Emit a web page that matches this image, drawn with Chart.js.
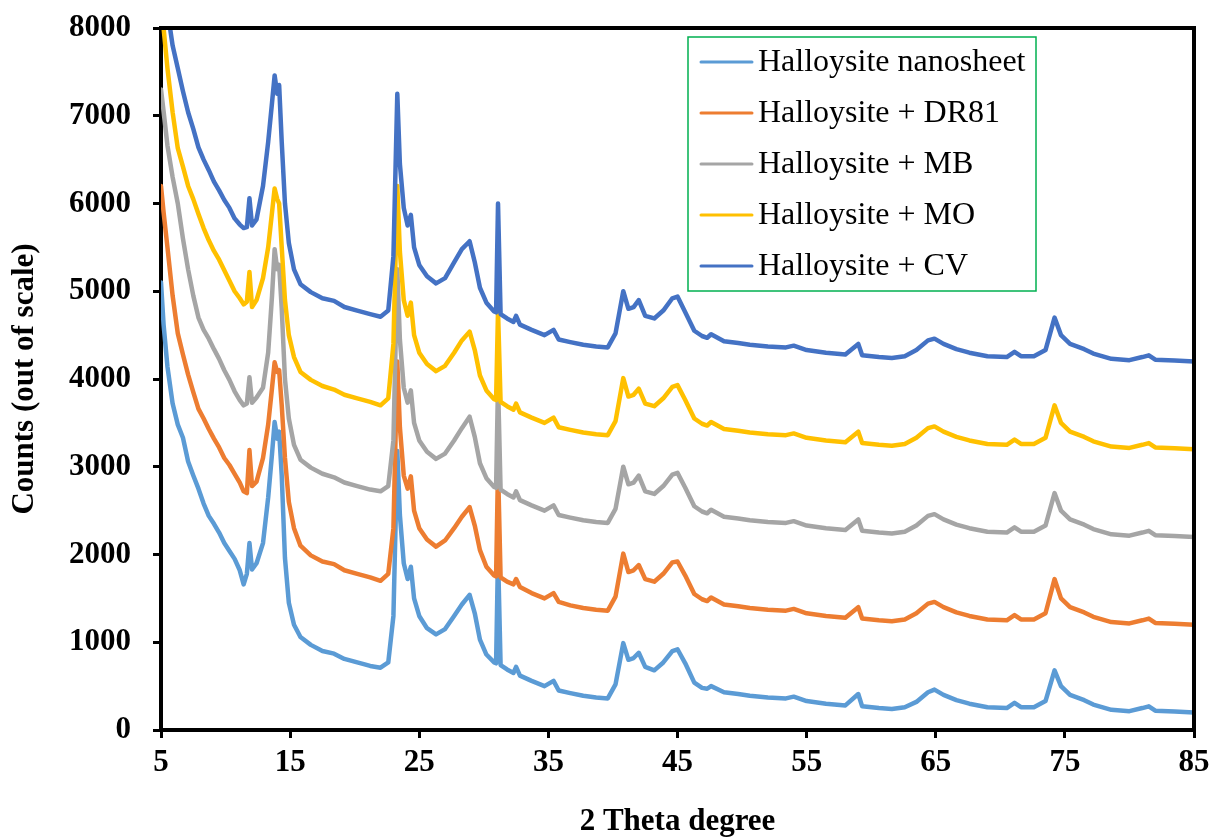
<!DOCTYPE html>
<html>
<head>
<meta charset="utf-8">
<title>XRD patterns</title>
<script src="https://cdn.jsdelivr.net/npm/chart.js@4.4.1/dist/chart.umd.min.js"></script>
<style>
  html, body { margin: 0; padding: 0; background: #fff; }
  #wrap { width: 1211px; height: 837px; position: relative; }
</style>
</head>
<body>
<div id="wrap"><canvas id="xrd"></canvas></div>
<script>
// 2 theta positions shared by all patterns
const twoTheta = [
  5.0, 5.2, 5.5, 5.9, 6.3, 6.7, 7.1, 7.5, 7.9, 8.3,
  8.7, 9.1, 9.5, 9.9, 10.3, 10.7, 11.1, 11.4, 11.65, 11.85,
  12.05, 12.4, 12.9, 13.3, 13.6, 13.8, 14.0, 14.15, 14.35, 14.6,
  14.9, 15.3, 15.8, 16.6, 17.5, 18.4, 19.2, 20.2, 21.2, 22.0,
  22.6, 23.0, 23.3, 23.5, 23.8, 24.1, 24.35, 24.6, 25.0, 25.6,
  26.3, 27.0, 27.7, 28.3, 28.9, 29.3, 29.7, 30.2, 30.8, 30.95,
  31.1, 31.3, 31.8, 32.3, 32.5, 32.8, 33.7, 34.7, 35.4, 35.8,
  36.7, 37.7, 38.7, 39.6, 40.2, 40.8, 41.2, 41.6, 42.0, 42.5,
  43.2, 43.9, 44.6, 45.0, 45.6, 46.3, 46.9, 47.3, 47.6, 48.6,
  49.7, 50.6, 52.0, 53.4, 54.0, 55.0, 56.5, 58.0, 59.0, 59.3,
  60.6, 61.6, 62.6, 63.5, 64.4, 64.9, 65.6, 66.6, 67.6, 69.0,
  70.5, 71.1, 71.6, 72.6, 73.5, 74.2, 74.7, 75.4, 76.5, 77.2,
  78.6, 80.0, 81.0, 81.5, 82.0, 83.5, 85.0
];

const nanosheet = [
  5100, 4620, 4140, 3720, 3480, 3330, 3060, 2900, 2750, 2580,
  2440, 2350, 2250, 2130, 2040, 1950, 1820, 1660, 1780, 2130,
  1830, 1900, 2130, 2650, 3150, 3510, 3320, 3400, 2900, 1960,
  1450, 1200, 1060, 970, 900, 870, 810, 770, 730, 710,
  770, 1300, 3180, 2450, 1900, 1720, 1860, 1500, 1300, 1160,
  1090, 1150, 1300, 1430, 1540, 1330, 1030, 860, 770, 760,
  2000, 740, 690, 650, 720, 620, 560, 500, 560, 450,
  420, 390, 370, 360, 520, 990, 800, 820, 880, 720,
  680, 770, 900, 920, 760, 540, 480, 470, 500, 430,
  410, 390, 370, 360, 380, 330, 300, 280, 410, 270,
  250, 240, 260, 320, 430, 460, 400, 340, 300, 260,
  250, 310, 260, 260, 330, 680, 500, 400, 340, 290,
  230, 215, 250, 270, 220, 210, 200
];

const withDR81 = [
  6200, 5900, 5500, 4950, 4520, 4280, 4050, 3850, 3660, 3550,
  3430, 3320, 3220, 3100, 3020, 2920, 2820, 2720, 2700, 3190,
  2780, 2830, 3100, 3480, 3900, 4190, 4080, 4100, 3700, 3100,
  2600, 2300, 2100, 1990, 1920, 1890, 1820, 1780, 1740, 1700,
  1780, 2300, 4200, 3450, 2900, 2750, 2890, 2500, 2300, 2170,
  2090, 2160, 2300, 2430, 2540, 2330, 2050, 1860, 1760, 1750,
  3000, 1740, 1690, 1660, 1720, 1630, 1560, 1500, 1560, 1460,
  1420, 1390, 1370, 1360, 1520, 2010, 1800, 1820, 1880, 1720,
  1690, 1780, 1910, 1920, 1760, 1550, 1490, 1470, 1510, 1430,
  1410, 1390, 1370, 1360, 1380, 1330, 1300, 1280, 1400, 1270,
  1250, 1240, 1260, 1330, 1440, 1460, 1400, 1340, 1300, 1260,
  1250, 1310, 1260, 1260, 1330, 1720, 1500, 1400, 1340, 1290,
  1230, 1215, 1250, 1270, 1220, 1210, 1200
];

const withMB = [
  7300, 7050, 6660, 6300, 6000, 5600, 5250, 4950, 4700, 4560,
  4460, 4340, 4230, 4100, 3990, 3860, 3760, 3700, 3720, 4020,
  3730, 3790, 3900, 4300, 4950, 5480, 5250, 5300, 4800, 4000,
  3550, 3250, 3080, 2990, 2920, 2880, 2820, 2780, 2740, 2720,
  2780, 3300, 5250, 4450, 3900, 3730, 3870, 3500, 3300, 3170,
  3090, 3150, 3300, 3440, 3570, 3340, 3040, 2870, 2770, 2760,
  3950, 2740, 2690, 2650, 2720, 2620, 2560, 2500, 2560, 2450,
  2420, 2390, 2370, 2360, 2520, 3000, 2800, 2820, 2900, 2720,
  2690, 2780, 2910, 2930, 2760, 2550, 2490, 2470, 2510, 2430,
  2410, 2390, 2370, 2360, 2380, 2330, 2300, 2280, 2400, 2270,
  2250, 2240, 2260, 2330, 2440, 2460, 2400, 2340, 2300, 2260,
  2250, 2310, 2260, 2260, 2330, 2700, 2500, 2400, 2340, 2290,
  2230, 2215, 2250, 2270, 2220, 2210, 2200
];

const withMO = [
  8300, 8000, 7540, 7040, 6630, 6420, 6200, 6050, 5880, 5720,
  5580, 5460, 5360, 5240, 5120, 5000, 4920, 4850, 4880, 5220,
  4820, 4900, 5150, 5500, 5900, 6170, 6050, 6000, 5500, 4900,
  4500, 4250, 4080, 3990, 3920, 3880, 3820, 3780, 3740, 3700,
  3780, 4400, 6200, 5450, 4900, 4720, 4870, 4500, 4300, 4170,
  4090, 4150, 4300, 4440, 4540, 4330, 4040, 3870, 3770, 3760,
  4780, 3740, 3690, 3650, 3720, 3620, 3560, 3500, 3560, 3450,
  3420, 3390, 3370, 3360, 3520, 4010, 3800, 3820, 3890, 3720,
  3690, 3780, 3910, 3930, 3760, 3550, 3490, 3470, 3510, 3430,
  3410, 3390, 3370, 3360, 3380, 3330, 3300, 3280, 3400, 3270,
  3250, 3240, 3260, 3330, 3440, 3460, 3400, 3340, 3300, 3260,
  3250, 3310, 3260, 3260, 3330, 3700, 3500, 3400, 3340, 3290,
  3230, 3215, 3250, 3270, 3220, 3210, 3200
];

const withCV = [
  8900, 8600, 8200, 7800, 7540, 7280, 7040, 6850, 6640, 6500,
  6380, 6250, 6150, 6040, 5950, 5830, 5760, 5720, 5730, 6060,
  5750, 5820, 6200, 6700, 7150, 7460, 7250, 7350, 6700, 6000,
  5550, 5250, 5080, 4990, 4920, 4890, 4820, 4780, 4740, 4710,
  4780, 5400, 7250, 6450, 5950, 5750, 5870, 5500, 5300, 5170,
  5090, 5150, 5330, 5480, 5570, 5330, 5040, 4870, 4770, 4760,
  6000, 4740, 4690, 4650, 4720, 4620, 4560, 4500, 4560, 4450,
  4420, 4390, 4370, 4360, 4520, 5000, 4800, 4820, 4900, 4720,
  4690, 4780, 4920, 4940, 4760, 4550, 4490, 4470, 4510, 4430,
  4410, 4390, 4370, 4360, 4380, 4330, 4300, 4280, 4400, 4270,
  4250, 4240, 4260, 4330, 4440, 4460, 4400, 4340, 4300, 4260,
  4250, 4310, 4260, 4260, 4330, 4700, 4500, 4400, 4340, 4290,
  4230, 4215, 4250, 4270, 4220, 4210, 4200
];

const seriesNames = ['Halloysite nanosheet', 'Halloysite + DR81', 'Halloysite + MB', 'Halloysite + MO', 'Halloysite + CV'];
const seriesValues = [nanosheet, withDR81, withMB, withMO, withCV];
const seriesColors = ['#5B9BD5', '#ED7D31', '#A5A5A5', '#FFC000', '#4472C4'];
const xTicks = [5, 15, 25, 35, 45, 55, 65, 75, 85];

const serif = 'Liberation Serif, Times New Roman, serif';

const datasets = seriesValues.map((vals, i) => ({
  label: seriesNames[i],
  data: twoTheta.map((t, j) => ({ x: t, y: vals[j] })),
  borderColor: seriesColors[i],
  backgroundColor: seriesColors[i],
  borderWidth: 4.5,
  borderJoinStyle: 'round',
  borderCapStyle: 'round',
  pointRadius: 0,
  tension: 0,
  order: seriesValues.length - i  // last series ends up on top
}));

// top and right edges of the plot frame
const frame = {
  id: 'frame',
  afterDatasetsDraw(chart) {
    const { ctx, chartArea: a } = chart;
    ctx.save();
    ctx.strokeStyle = '#000';
    ctx.lineWidth = 4;
    ctx.beginPath();
    ctx.moveTo(a.left, a.top);
    ctx.lineTo(a.right, a.top);
    ctx.lineTo(a.right, a.bottom);
    ctx.stroke();
    ctx.restore();
  }
};

// boxed legend inside the plot, top right
const boxLegend = {
  id: 'boxLegend',
  afterDraw(chart) {
    const { ctx, chartArea: a } = chart;
    const left = a.left + 527, top = a.top + 9;
    const w = 348, h = 254, step = 51;
    ctx.save();
    ctx.fillStyle = '#fff';
    ctx.fillRect(left, top, w, h);
    ctx.strokeStyle = '#00B050';
    ctx.lineWidth = 1.5;
    ctx.strokeRect(left, top, w, h);
    ctx.font = '32px ' + serif;
    ctx.textBaseline = 'middle';
    chart.data.datasets.forEach((ds, i) => {
      const y = top + 25 + i * step;
      ctx.strokeStyle = ds.borderColor;
      ctx.lineWidth = 3;
      ctx.lineCap = 'round';
      ctx.beginPath();
      ctx.moveTo(left + 13, y);
      ctx.lineTo(left + 64, y);
      ctx.stroke();
      ctx.fillStyle = '#000';
      ctx.fillText(ds.label, left + 70, y + 1);
    });
    ctx.restore();
  }
};

const tickFont = { family: serif, size: 31, weight: 'bold' };

new Chart(document.getElementById('xrd'), {
  type: 'line',
  data: { datasets },
  options: {
    responsive: true,
    maintainAspectRatio: false,
    animation: false,
    layout: { padding: { left: 0, top: 28, right: 17, bottom: 0 } },
    plugins: { legend: { display: false }, tooltip: { enabled: false } },
    scales: {
      x: {
        type: 'linear',
        min: 5,
        max: 85,
        afterFit(scale) {
          scale.height = 107;
          scale.paddingLeft = 0;
          scale.paddingRight = 0;
        },
        afterBuildTicks(scale) { scale.ticks = xTicks.map(v => ({ value: v })); },
        ticks: { color: '#000', font: tickFont, padding: 6, maxRotation: 0, autoSkip: false },
        grid: { drawOnChartArea: false, drawTicks: true, tickLength: 8, color: '#000', lineWidth: 3 },
        border: { display: true, color: '#000', width: 4 },
        title: { display: true, text: '2 Theta degree', color: '#000',
                 font: { family: serif, size: 31, weight: 'bold', lineHeight: 1 }, padding: { top: 0, bottom: 0 } }
      },
      y: {
        min: 0,
        max: 8000,
        afterFit(scale) {
          scale.width = 161;
          scale.paddingTop = 0;
          scale.paddingBottom = 0;
        },
        ticks: { stepSize: 1000, color: '#000', font: tickFont, padding: 22, callback: v => String(v) },
        grid: { drawOnChartArea: false, drawTicks: true, tickLength: 8, color: '#000', lineWidth: 3 },
        border: { display: true, color: '#000', width: 4 },
        title: { display: true, text: 'Counts (out of scale)', color: '#000',
                 font: { family: serif, size: 31, weight: 'bold', lineHeight: 1 }, padding: { top: 9, bottom: 0 } }
      }
    }
  },
  plugins: [frame, boxLegend]
});
</script>
</body>
</html>
